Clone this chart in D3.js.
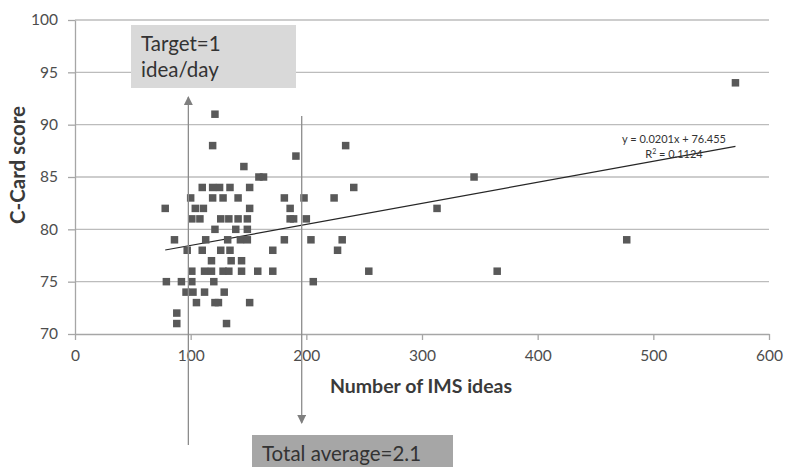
<!DOCTYPE html>
<html>
<head>
<meta charset="utf-8">
<script src="https://cdn.jsdelivr.net/npm/d3@7"></script>
<style>
  body { margin: 0; background: #fff; }
  svg { display: block; font-family: Lato, "Open Sans", sans-serif; }
</style>
</head>
<body>
<div id="scatter"></div>
<script>

// Scatter of C-Card score vs number of IMS ideas

// Set dimensions and margins for plot
const width = 792;
const height = 467;
const margin = {left: 75, right: 20, bottom: 133, top: 20};

// Data (x = ideas, y = score)
const ideas = [
  571,
  121,
  119, 234,
  191,
  146,
  159, 163, 345,
  110, 119, 125, 134, 151, 241,
  100, 119, 128, 141, 181, 198, 224,
  78, 104, 111, 151, 186, 313,
  101, 108, 126, 133, 141, 149, 186, 189, 200,
  121, 139, 149,
  86, 113, 132, 143, 149, 181, 204, 231, 477,
  97, 110, 126, 134, 171, 227,
  118, 135, 144,
  101, 112, 118, 128, 133, 144, 158, 171, 254, 365,
  79, 92, 101, 120, 206,
  96, 102, 112, 129,
  105, 121, 124, 151,
  88,
  88, 131
];
const scores = [
  94,
  91,
  88, 88,
  87,
  86,
  85, 85, 85,
  84, 84, 84, 84, 84, 84,
  83, 83, 83, 83, 83, 83, 83,
  82, 82, 82, 82, 82, 82,
  81, 81, 81, 81, 81, 81, 81, 81, 81,
  80, 80, 80,
  79, 79, 79, 79, 79, 79, 79, 79, 79,
  78, 78, 78, 78, 78, 78,
  77, 77, 77,
  76, 76, 76, 76, 76, 76, 76, 76, 76, 76,
  75, 75, 75, 75, 75,
  74, 74, 74, 74,
  73, 73, 73, 73,
  72,
  71, 71
];
const xTicks = [0, 100, 200, 300, 400, 500, 600];
const yTicks = [70, 75, 80, 85, 90, 95, 100];

// linear trendline shown on the chart
const slope = 0.0201;
const intercept = 76.455;

// annotation positions (in data units of x)
const targetX = 98;
const averageX = 196;

const points = ideas.map((d, i) => ({x: d, y: scores[i]}));

const svg = d3.select("#scatter")
  .append("svg")
  .attr("width", width)
  .attr("height", height);

/*

  Axes

*/

let xScale = d3.scaleLinear()
  .domain([0, 600])
  .range([margin.left, width - margin.right - 3]);

let yScale = d3.scaleLinear()
  .domain([70, 100])
  .range([height - margin.bottom, margin.top]);

// horizontal gridlines
svg.append("g")
  .selectAll("line")
  .data(yTicks.slice(1))
  .enter()
  .append("line")
    .attr("x1", xScale(0))
    .attr("x2", xScale(600))
    .attr("y1", d => yScale(d))
    .attr("y2", d => yScale(d))
    .attr("stroke", "#bcbcbc")
    .attr("stroke-width", 1.3);

// y axis
const yAxis = svg.append("g")
  .attr("transform", `translate(${margin.left},0)`)
  .call(d3.axisLeft(yScale).tickValues(yTicks).tickSize(7).tickSizeOuter(0).tickPadding(10))
  .attr("font-size", "15.5px")
  .attr("font-family", null);

// x axis
const xAxis = svg.append("g")
  .attr("transform", `translate(0,${yScale(70)})`)
  .call(d3.axisBottom(xScale).tickValues(xTicks).tickSize(6).tickSizeOuter(0).tickPadding(10))
  .attr("font-size", "15.5px")
  .attr("font-family", null);

[yAxis, xAxis].forEach(a => {
  a.select(".domain").attr("stroke", "#a6a6a6").attr("stroke-width", 1.3);
  a.selectAll(".tick line").attr("stroke", "#a6a6a6").attr("stroke-width", 1.3);
  a.selectAll(".tick text").attr("fill", "#4d4d4d");
});

// axis titles
svg.append("text")
  .attr("x", 421)
  .attr("y", 393)
  .attr("text-anchor", "middle")
  .attr("font-size", "19.5px")
  .attr("font-weight", "bold")
  .attr("fill", "#3a3a3a")
  .text("Number of IMS ideas");

svg.append("text")
  .attr("transform", `translate(25,165) rotate(-90)`)
  .attr("text-anchor", "middle")
  .attr("font-size", "20.5px")
  .attr("font-weight", "bold")
  .attr("fill", "#3a3a3a")
  .text("C-Card score");

/*

  Trendline

*/

const xExt = d3.extent(ideas);
svg.append("line")
  .attr("x1", xScale(xExt[0]))
  .attr("y1", yScale(slope * xExt[0] + intercept))
  .attr("x2", xScale(xExt[1]))
  .attr("y2", yScale(slope * xExt[1] + intercept))
  .attr("stroke", "#262626")
  .attr("stroke-width", 1.2);

const eq = svg.append("text")
  .attr("text-anchor", "middle")
  .attr("font-size", "11px")
  .attr("fill", "#333");
eq.append("tspan")
  .attr("x", 674).attr("y", 143)
  .text("y = " + slope + "x + " + intercept);
const r2 = eq.append("tspan")
  .attr("x", 674).attr("y", 158);
r2.append("tspan").text("R");
r2.append("tspan").attr("font-size", "7px").attr("dy", -4).text("2");
r2.append("tspan").attr("dy", 4).text(" = 0.1124");

/*

  Points

*/

svg.selectAll(".pt")
  .data(points)
  .enter()
  .append("rect")
    .attr("class", "pt")
    .attr("x", d => xScale(d.x) - 3.75)
    .attr("y", d => yScale(d.y) - 3.75)
    .attr("width", 7.5)
    .attr("height", 7.5)
    .attr("fill", "#595959");

/*

  Annotations (arrows + boxes)

*/

const defs = svg.append("defs");
defs.append("marker")
  .attr("id", "arrow")
  .attr("viewBox", "0 0 10 10")
  .attr("refX", 9)
  .attr("refY", 5)
  .attr("markerWidth", 9)
  .attr("markerHeight", 9)
  .attr("markerUnits", "userSpaceOnUse")
  .attr("orient", "auto")
  .append("path")
    .attr("d", "M0,0 L10,5 L0,10 Z")
    .attr("fill", "#7f7f7f");

// up arrow at target
svg.append("line")
  .attr("x1", xScale(targetX)).attr("y1", 445)
  .attr("x2", xScale(targetX)).attr("y2", 97)
  .attr("stroke", "#8c8c8c")
  .attr("stroke-width", 1.3)
  .attr("marker-end", "url(#arrow)");

// down arrow at total average
svg.append("line")
  .attr("x1", xScale(averageX)).attr("y1", 116)
  .attr("x2", xScale(averageX)).attr("y2", 423)
  .attr("stroke", "#8c8c8c")
  .attr("stroke-width", 1.3)
  .attr("marker-end", "url(#arrow)");

// target box
svg.append("rect")
  .attr("x", 131).attr("y", 25)
  .attr("width", 165).attr("height", 63)
  .attr("fill", "#d9d9d9");
const tBox = svg.append("text")
  .attr("font-size", "20.5px")
  .attr("fill", "#333");
tBox.append("tspan").attr("x", 141).attr("y", 51).text("Target=1");
tBox.append("tspan").attr("x", 141).attr("y", 77).text("idea/day");

// average box
svg.append("rect")
  .attr("x", 252).attr("y", 435)
  .attr("width", 201).attr("height", 32)
  .attr("fill", "#a6a6a6");
svg.append("text")
  .attr("x", 262).attr("y", 461)
  .attr("font-size", "20.5px")
  .attr("fill", "#333")
  .text("Total average=2.1");

</script>
</body>
</html>
